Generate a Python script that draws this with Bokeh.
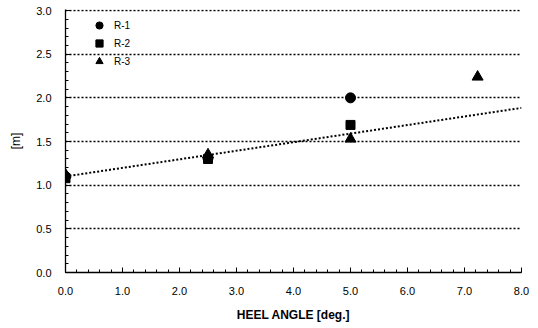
from bokeh.plotting import figure
from bokeh.models import Range1d, SingleIntervalTicker, NumeralTickFormatter, Legend, LegendItem
from bokeh.embed import file_html
from bokeh.resources import INLINE

# Data
r1_x = [0.0, 2.5, 5.0]
r1_y = [1.10, 1.31, 2.00]
r2_x = [0.0, 2.5, 5.0]
r2_y = [1.08, 1.30, 1.69]
r3_x = [0.0, 2.5, 5.0, 7.23]
r3_y = [1.12, 1.35, 1.53, 2.24]
trend_x = [0.0, 8.0]
trend_y = [1.10, 1.885]

FONT = "Liberation Sans"

p = figure(width=538, height=328, output_backend="svg", toolbar_location=None,
           x_range=Range1d(0, 8), y_range=Range1d(0, 3.012),
           min_border_left=65, min_border_right=17, min_border_top=9, min_border_bottom=56)

p.outline_line_color = None
p.background_fill_color = "white"
p.border_fill_color = "white"

# grid
p.xgrid.grid_line_color = None
p.ygrid.grid_line_color = "black"
p.ygrid.grid_line_dash = "2 2"
p.ygrid.grid_line_width = 1.3

# axes
p.xaxis.ticker = SingleIntervalTicker(interval=1.0, num_minor_ticks=5)
p.yaxis.ticker = SingleIntervalTicker(interval=0.5, num_minor_ticks=5)
for ax in (p.xaxis[0], p.yaxis[0]):
    ax.formatter = NumeralTickFormatter(format="0.0")
    ax.axis_line_color = "black"
    ax.axis_line_width = 1.3
    ax.major_tick_in = 5
    ax.major_tick_out = 0
    ax.minor_tick_in = 3
    ax.minor_tick_out = 0
    ax.major_tick_line_color = "black"
    ax.minor_tick_line_color = "black"
    ax.major_label_text_font = FONT
    ax.major_label_text_font_size = "11px"
    ax.major_label_text_color = "black"
    ax.major_label_standoff = 14
    ax.axis_label_text_font = FONT
    ax.axis_label_text_font_size = "12px"
    ax.axis_label_text_font_style = "bold"
    ax.axis_label_text_color = "black"

p.xaxis.axis_label = "HEEL ANGLE [deg.]"
p.xaxis.axis_label_standoff = 10
p.yaxis.axis_label = "[m]"
p.yaxis.axis_label_standoff = 10
p.yaxis.axis_label_text_font_style = "normal"

# trend line
p.line(trend_x, trend_y, line_color="black", line_width=2, line_dash="2 2")

# series
c1 = p.scatter(r1_x, r1_y, marker="circle", size=10, fill_color="black", line_color="black")
c2 = p.scatter(r2_x, r2_y, marker="square", size=9, fill_color="black", line_color="black")
c3 = p.scatter(r3_x, r3_y, marker="triangle", size=11, fill_color="black", line_color="black")

legend = Legend(items=[LegendItem(label="R-1", renderers=[c1]),
                       LegendItem(label="R-2", renderers=[c2]),
                       LegendItem(label="R-3", renderers=[c3])],
                location=(25, 202), orientation="vertical",
                background_fill_alpha=0, border_line_color=None,
                padding=5, spacing=0, glyph_width=18, glyph_height=18,
                label_height=18, label_standoff=6,
                label_text_font=FONT, label_text_font_size="10px",
                label_text_color="black")
p.add_layout(legend, "center")

open("out.html", "w").write(file_html(p, INLINE))
